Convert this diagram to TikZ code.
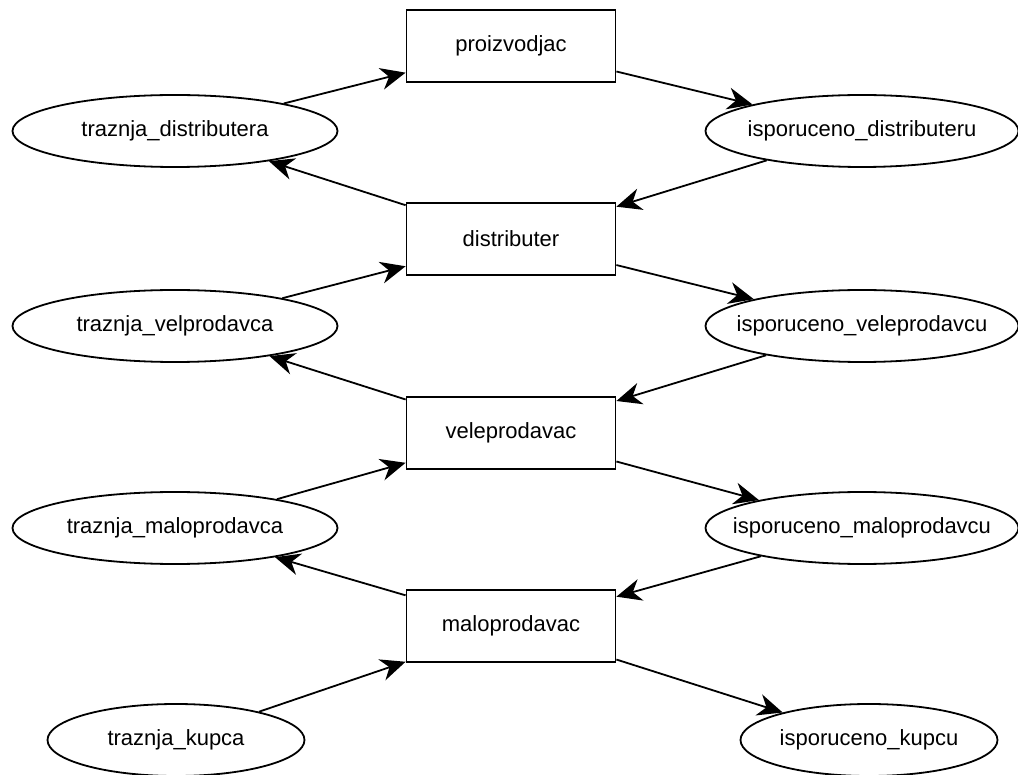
\documentclass[tikz,border=0pt]{standalone}
\usepackage{fontspec}
\setmainfont{Liberation Sans}
\usetikzlibrary{shapes.geometric,arrows.meta}

% keep long labels from growing the ellipses
\newcommand{\flowtext}[1]{\makebox[0pt]{#1}}

\begin{document}
\begin{tikzpicture}[x=1pt, y=-1pt]

% Define styles
\tikzstyle{actor} = [rectangle, draw=black, line width=1.8pt, text centered, minimum height=72pt, minimum width=209pt, font=\fontsize{22}{26}\selectfont]
\tikzstyle{flow} = [ellipse, draw=black, line width=1.8pt, text centered, inner sep=0pt, minimum height=72pt, minimum width=325pt, font=\fontsize{22}{26}\selectfont]
\tikzstyle{small} = [flow, minimum width=257pt]
\tikzstyle{link} = [line width=1.8pt, -{Stealth[length=25pt, width=22pt, inset=8pt]}]

\useasboundingbox (0,0) rectangle (1018,775);

% Main chain
\node [actor] (proizvodjac) at (511,46) {proizvodjac};
\node [actor] (distributer) at (511,239) {distributer};
\node [actor] (veleprodavac) at (511,433) {veleprodavac};
\node [actor] (maloprodavac) at (511,626) {maloprodavac};

% Demand (left)
\node [flow] (traz_dist) at (175,131) {\flowtext{traznja\_distributera}};
\node [flow] (traz_vele) at (175,326) {\flowtext{traznja\_velprodavca}};
\node [flow] (traz_malo) at (175,528) {\flowtext{traznja\_maloprodavca}};
\node [small] (traz_kupca) at (176,740) {\flowtext{traznja\_kupca}};

% Deliveries (right)
\node [flow, minimum width=313pt] (isp_dist) at (862,131) {\flowtext{isporuceno\_distributeru}};
\node [flow, minimum width=313pt] (isp_vele) at (862,326) {\flowtext{isporuceno\_veleprodavcu}};
\node [flow, minimum width=313pt] (isp_malo) at (862,528) {\flowtext{isporuceno\_maloprodavcu}};
\node [small] (isp_kupcu) at (869,740) {\flowtext{isporuceno\_kupcu}};

% Connections
\draw [link] (traz_dist) -- (proizvodjac);
\draw [link] (proizvodjac) -- (isp_dist);
\draw [link] (isp_dist) -- (distributer);
\draw [link] (distributer) -- (traz_dist);

\draw [link] (traz_vele) -- (distributer);
\draw [link] (distributer) -- (isp_vele);
\draw [link] (isp_vele) -- (veleprodavac);
\draw [link] (veleprodavac) -- (traz_vele);

\draw [link] (traz_malo) -- (veleprodavac);
\draw [link] (veleprodavac) -- (isp_malo);
\draw [link] (isp_malo) -- (maloprodavac);
\draw [link] (maloprodavac) -- (traz_malo);

\draw [link] (traz_kupca) -- (maloprodavac);
\draw [link] (maloprodavac) -- (isp_kupcu);

\end{tikzpicture}
\end{document}
